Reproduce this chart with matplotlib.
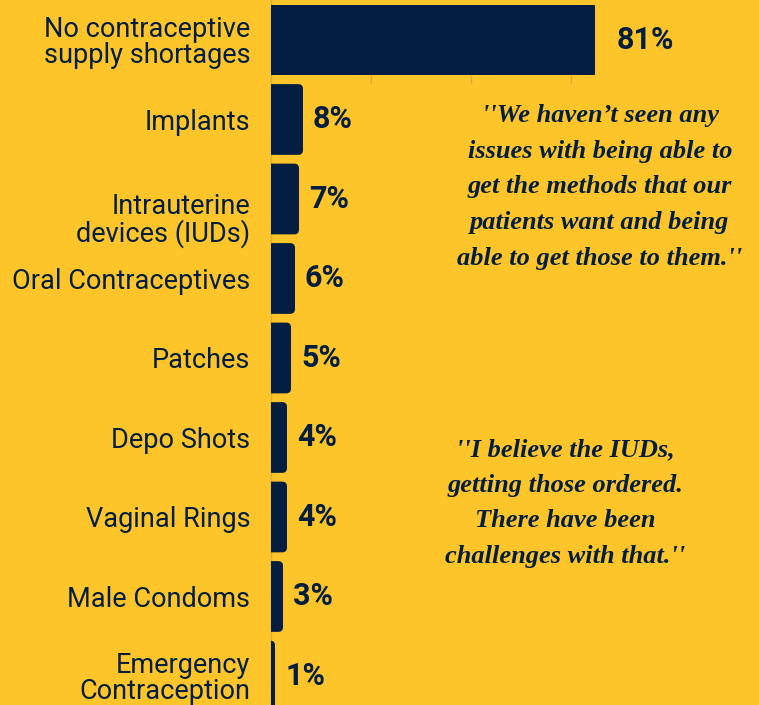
import matplotlib
matplotlib.use('Agg')
import matplotlib.pyplot as plt
import matplotlib.transforms as mtransforms
from matplotlib.patches import FancyBboxPatch

# data
labels = ['No contraceptive\nsupply shortages', 'Implants', 'Intrauterine\ndevices (IUDs)',
          'Oral Contraceptives', 'Patches', 'Depo Shots', 'Vaginal Rings',
          'Male Condoms', 'Emergency\nContraception']
values = [81, 8, 7, 6, 5, 4, 4, 3, 1]
grid_ticks = [25, 50, 75]

quote1 = "''We haven\u2019t seen any\nissues with being able to\nget the methods that our\npatients want and being\nable to get those to them.''"
quote2 = "''I believe the IUDs,\ngetting those ordered.\nThere have been\nchallenges with that.''"

bg = '#FEC52B'
navy = '#041E42'
gridc = '#D9AE3A'

fig = plt.figure(figsize=(7.59, 7.05), dpi=100, facecolor=bg)
ax = fig.add_axes([271/759, 0, 1 - 271/759, 1])
ax.set_facecolor(bg)

ax.set_xlim(0, 122)
ax.set_ylim(8.365, -0.503)

h = 0.89
for i, v in enumerate(values):
    if i == 0:
        ax.barh(i, v, height=h, color=navy, zorder=3)
    else:
        p = FancyBboxPatch((-3, i - h/2), v + 3, h,
                           boxstyle='round,pad=0,rounding_size=1.2',
                           mutation_aspect=0.05, fc=navy, ec='none', zorder=3)
        ax.add_patch(p)
    off = 22 if i == 0 else 10
    ax.annotate('%d%%' % v, (v, i), xytext=(off * 0.72, 0), textcoords='offset points',
                ha='left', va='center', fontsize=22, fontweight='bold',
                family='Roboto', color=navy)

# faint grid stubs in the gap under the top bar
ax.vlines(grid_ticks, h/2, 1 - h/2, color=gridc, lw=1, zorder=1)

ax.set_yticks(range(len(labels)))
ax.set_yticklabels(labels, fontsize=19.5, family='Roboto', color=navy, linespacing=0.95)
ax.tick_params(axis='y', length=0, pad=15)
ax.set_xticks([])
for s in ['top', 'right', 'bottom']:
    ax.spines[s].set_visible(False)
ax.spines['left'].set_color(gridc)
ax.spines['left'].set_linewidth(1)

# IUD label sits a bit lower than its bar in the original
tl = ax.get_yticklabels()[2]
tl.set_transform(tl.get_transform() + mtransforms.ScaledTranslation(0, -0.19, fig.dpi_scale_trans))

fig.text(600/759, 1 - 187/705, quote1, ha='center', va='center', fontsize=19,
         family='Liberation Serif', style='italic', fontweight='bold', color=navy,
         linespacing=1.7)
fig.text(565/759, 1 - 503/705, quote2, ha='center', va='center', fontsize=19,
         family='Liberation Serif', style='italic', fontweight='bold', color=navy,
         linespacing=1.7)

plt.savefig('out.png', facecolor=bg)
